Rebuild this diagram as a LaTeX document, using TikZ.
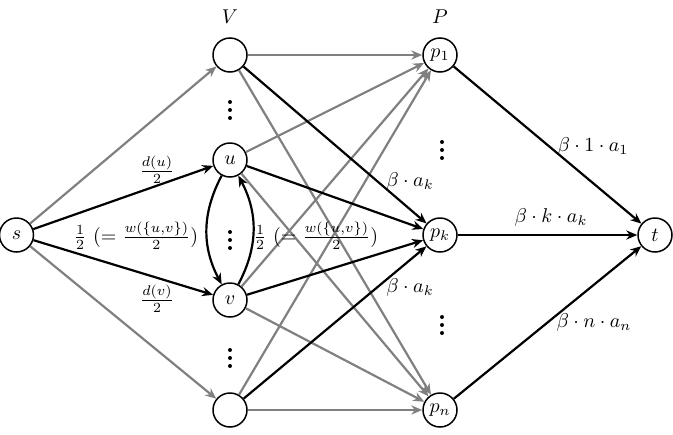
\documentclass[tikz,border=0pt]{standalone}
\usetikzlibrary{arrows.meta}
\begin{document}
\begin{tikzpicture}[x=0.5pt,y=-0.5pt,
  vert/.style={circle,draw,line width=0.75pt,minimum size=17pt,inner sep=0pt},
  gedge/.style={draw={rgb,255:red,128;green,128;blue,128},line width=1.1pt,-{Stealth[length=5.5pt,width=4.6pt]}},
  bedge/.style={draw=black,line width=1.1pt,-{Stealth[length=5.5pt,width=4.6pt]}},
  lab/.style={inner sep=1pt}]
\useasboundingbox (0,0) rectangle (673,434);
\node[vert] (s) at (16.5,235) {$s$};
\node[vert] (v1) at (230,55) {};
\node[vert] (u) at (230,160) {$u$};
\node[vert] (v) at (230,300) {$v$};
\node[vert] (vn) at (230,410) {};
\node[vert] (p1) at (440,55) {$p_1$};
\node[vert] (pk) at (440,235) {$p_k$};
\node[vert] (pn) at (440,410) {$p_n$};
\node[vert] (t) at (655,235) {$t$};
\node (Vl) at (230,17) {$V$};
\node (Pl) at (440,17) {$P$};
\foreach \x/\y in {230/110,230/240,230/358,442/150,442/325}{
  \fill (\x,\y-8) circle (1pt) (\x,\y) circle (1pt) (\x,\y+8) circle (1pt);
}
% gray edges
\draw[gedge] (s) -- (v1);
\draw[gedge] (s) -- (vn);
\foreach \a in {v1,u,v,vn}{
  \draw[gedge] (\a) -- (p1);
  \draw[gedge] (\a) -- (pn);
}
% black edges
\draw[bedge] (s) -- (u);
\draw[bedge] (s) -- (v);
\foreach \a in {v1,u,v,vn}{
  \draw[bedge] (\a) -- (pk);
}
\draw[bedge] (u) to[bend right=28] (v);
\draw[bedge] (v) to[bend right=28] (u);
\draw[bedge] (p1) -- (t);
\draw[bedge] (pk) -- (t);
\draw[bedge] (pn) -- (t);
% labels
\node[lab] (l1) at (157,170) {$\frac{d(u)}{2}$};
\node[lab] (l2) at (157,299) {$\frac{d(v)}{2}$};
\node[lab] (l3) at (136,236) {$\frac12\ (=\frac{w(\{u,v\})}{2})$};
\node[lab] (l4) at (316,236) {$\frac12\ (=\frac{w(\{u,v\})}{2})$};
\node[lab] (l5) at (410,181) {$\beta\cdot a_k$};
\node[lab] (l6) at (410,287) {$\beta\cdot a_k$};
\node[lab] (l7) at (551,217) {$\beta\cdot k\cdot a_k$};
\node[lab] (l8) at (593,146) {$\beta\cdot 1\cdot a_1$};
\node[lab] (l9) at (594,322) {$\beta\cdot n\cdot a_n$};
\end{tikzpicture}
\end{document}
